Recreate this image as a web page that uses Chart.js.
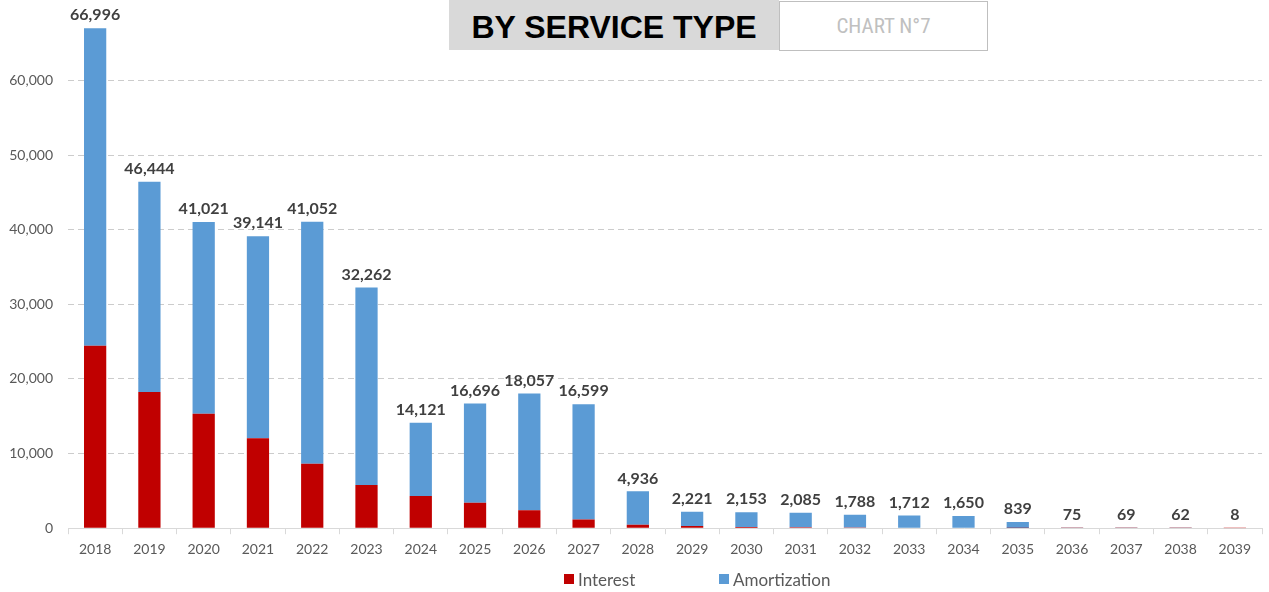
<!DOCTYPE html>
<html>
<head>
<meta charset="utf-8">
<script src="https://cdn.jsdelivr.net/npm/chart.js@4"></script>
<style>
  html, body { margin: 0; padding: 0; background: #fff; }
  #wrap { position: relative; width: 1269px; height: 592px; }
  #title {
    position: absolute; left: 449px; top: 0; width: 330px; height: 50px; box-sizing: border-box; padding-top: 5px;
    background: #d9d9d9; color: #000; font: bold 32px "Liberation Sans", Arial, sans-serif;
    display: flex; align-items: center; justify-content: center; z-index: 2;
  }
  #badge {
    position: absolute; left: 779px; top: 1px; width: 207px; height: 48px;
    border: 1px solid #bfbfbf; background: #fff; color: #c0c0c0;
    font: 21px "Liberation Sans Narrow", "Roboto Condensed", Roboto, sans-serif;
    display: flex; align-items: center; justify-content: center; z-index: 2;
  }
  #legend { position: absolute; top: 569px; left: 0; width: 1269px; height: 20px; font: 17px Lato, sans-serif; color: #595959; }
  .legend-item { position: absolute; top: 0; display: flex; align-items: center; height: 20px; }
  .legend-box { width: 10px; height: 10px; margin-right: 4px; }
</style>
</head>
<body>
<div id="wrap">
  <div id="title">BY SERVICE TYPE</div>
  <div id="badge">CHART N°7</div>
  <canvas id="serviceChart" width="1269" height="592"></canvas>
  <div id="legend"></div>
</div>
<script>
const years = ["2018", "2019", "2020", "2021", "2022", "2023", "2024", "2025", "2026", "2027", "2028",
  "2029", "2030", "2031", "2032", "2033", "2034", "2035", "2036", "2037", "2038", "2039"];
const interest = [24450, 18250, 15350, 12050, 8650, 5800, 4300, 3400, 2400, 1150, 450,
  280, 160, 130, 80, 70, 60, 40, 30, 25, 20, 3];
const amortization = [42546, 28194, 25671, 27091, 32402, 26462, 9821, 13296, 15657, 15449, 4486,
  1941, 1993, 1955, 1708, 1642, 1590, 799, 45, 44, 42, 5];
const totals = [66996, 46444, 41021, 39141, 41052, 32262, 14121, 16696, 18057, 16599, 4936,
  2221, 2153, 2085, 1788, 1712, 1650, 839, 75, 69, 62, 8];
const yTicks = [0, 10000, 20000, 30000, 40000, 50000, 60000];

const red = "#c00000";
const blue = "#5b9bd5";
const tickColor = "#595959";
const labelColor = "#404040";

// total labels above each stacked bar
const totalLabels = {
  id: "totalLabels",
  afterDatasetsDraw(chart) {
    const ctx = chart.ctx;
    const meta = chart.getDatasetMeta(1);
    ctx.save();
    ctx.font = "bold 16px Lato, sans-serif";
    ctx.fillStyle = labelColor;
    ctx.textAlign = "center";
    ctx.textBaseline = "bottom";
    meta.data.forEach((bar, i) => {
      ctx.fillText(totals[i].toLocaleString("en-US"), bar.x, bar.y - 5);
    });
    ctx.restore();
  },
};

const chart = new Chart(document.getElementById("serviceChart").getContext("2d"), {
  type: "bar",
  data: {
    labels: years,
    datasets: [
      { label: "Interest", data: interest, backgroundColor: red, categoryPercentage: 1, barPercentage: 0.41 },
      { label: "Amortization", data: amortization, backgroundColor: blue, categoryPercentage: 1, barPercentage: 0.41 },
    ],
  },
  options: {
    responsive: false,
    animation: false,
    layout: { padding: { left: 6, right: 7, top: 0, bottom: 27 } },
    plugins: {
      legend: { display: false },
      tooltip: { enabled: false },
    },
    scales: {
      x: {
        stacked: true,
        grid: { offset: true, drawOnChartArea: false, drawTicks: true, tickLength: 6, color: "#d9d9d9" },
        border: { color: "#d9d9d9" },
        ticks: { color: tickColor, font: { family: "Lato", size: 14 }, padding: 7 },
      },
      y: {
        stacked: true,
        min: 0,
        max: 67650,
        afterFit(s) { s.width = 62; },
        afterBuildTicks(s) { s.ticks = yTicks.map((v) => ({ value: v })); },
        grid: { color: "#cccccc", drawTicks: false },
        border: { display: false, dash: [6, 4] },
        ticks: {
          color: tickColor, font: { family: "Lato", size: 14 }, padding: 15,
          callback: (v) => v.toLocaleString("en-US"),
        },
      },
    },
  },
  plugins: [totalLabels],
});

// legend as html, spaced like the original
const legendItems = [
  { label: "Interest", color: red, left: 564 },
  { label: "Amortization", color: blue, left: 719 },
];
document.getElementById("legend").innerHTML = legendItems
  .map((l) => `<div class="legend-item" style="left:${l.left}px"><span class="legend-box" style="background:${l.color}"></span>${l.label}</div>`)
  .join("");
</script>
</body>
</html>
